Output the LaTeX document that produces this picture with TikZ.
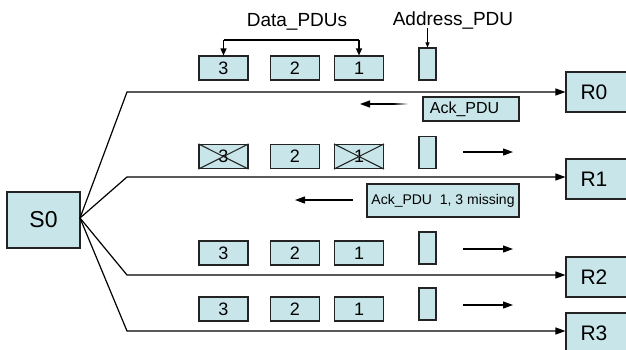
\documentclass[tikz,border=0pt]{standalone}
\usepackage{fontspec}
\setmainfont{Liberation Sans}
\usetikzlibrary{arrows.meta,calc}
\definecolor{boxc}{RGB}{200,230,233}
\definecolor{edgec}{RGB}{35,35,35}
\tikzset{
  pdu/.style={draw=edgec, line width=1.1pt, fill=boxc, minimum width=49pt, minimum height=24pt, inner sep=0pt, font=\fontsize{18}{20}\selectfont},
  addr/.style={draw=edgec, line width=1.1pt, fill=boxc, minimum width=17pt, minimum height=32pt, inner sep=0pt},
  rbox/.style={draw=edgec, line width=1.1pt, fill=boxc, minimum width=62pt, minimum height=40pt, inner sep=0pt, font=\fontsize{21}{24}\selectfont},
  ackbox/.style={draw=edgec, line width=1.1pt, fill=boxc, inner sep=0pt},
  wire/.style={line width=1.2pt, draw=black},
  arr/.style={line width=1.2pt, -{Triangle[length=10pt,width=7pt]}},
  smallarr/.style={line width=1.2pt, -{Triangle[length=7pt,width=6pt]}},
  tinyarr/.style={line width=0.8pt, -{Triangle[length=5pt,width=4pt]}},
  lbl/.style={font=\fontsize{19}{22}\selectfont, inner sep=0pt}
}
\begin{document}
\begin{tikzpicture}[x=1pt,y=-1pt]
\useasboundingbox (0,0) rectangle (626,349);
\clip (0,0) rectangle (626,349);

% sender and receivers
\node[rbox, minimum width=73pt, minimum height=56pt, font=\fontsize{23}{26}\selectfont] (S0) at (43.5,220) {S0};
\node[rbox] (R0) at (597,92) {R0\kern6pt};
\node[rbox] (R1) at (597,179) {R1\kern6pt};
\node[rbox] (R2) at (597,277) {R2\kern6pt};
\node[rbox] (R3) at (597,333) {R3\kern6pt};

% fan-out connectors
\coordinate (fan) at (80,218);
\coordinate (c0) at (127,92);
\coordinate (c1) at (127,177);
\coordinate (c2) at (127,275);
\coordinate (c3) at (127,331);
\draw[wire, arr] (fan) -- (c0) -- (c0 -| R0.west);
\draw[wire, arr] (fan) -- (c1) -- (c1 -| R1.west);
\draw[wire, arr] (fan) -- (c2) -- (c2 -| R2.west);
\draw[wire, arr] (fan) -- (c3) -- (c3 -| R3.west);

% row 0
\node[pdu] (a3) at (223.5,68) {3};
\node[pdu] (a2) at (295,68) {2};
\node[pdu] (a1) at (359,68) {1};
\node[addr] (aA) at (427.5,64) {};

% row 1 (lost PDUs crossed)
\node[pdu] (b3) at (223.5,156.5) {3};
\node[pdu] (b2) at (295,156.5) {2};
\node[pdu] (b1) at (359,156.5) {1};
\node[addr] (bA) at (427.5,152.5) {};
\draw[line width=1.1pt, edgec] (b3.north west) -- (b3.south east) (b3.south west) -- (b3.north east);
\draw[line width=1.1pt, edgec] (b1.north west) -- (b1.south east) (b1.south west) -- (b1.north east);

% row 2
\node[pdu] (c3b) at (223.5,253) {3};
\node[pdu] (c2b) at (295,253) {2};
\node[pdu] (c1b) at (359,253) {1};
\node[addr] (cA) at (427.5,248) {};

% row 3
\node[pdu] (d3) at (223.5,309) {3};
\node[pdu] (d2) at (295,309) {2};
\node[pdu] (d1) at (359,309) {1};
\node[addr] (dA) at (427.5,304) {};

% labels on top
\node[lbl] (dlabel) at (297,22) {Data\_PDUs};
\node[lbl] (alabel) at (453,20) {Address\_PDU};
\coordinate (br3) at (223.5,40);
\coordinate (br1) at (359,40);
\draw[line width=1.2pt] (br3) -- (br1);
\draw[smallarr] (br3) -- (a3.north);
\draw[smallarr] (br1) -- (a1.north);
\draw[tinyarr] (aA.north |- 0,28) coordinate (atop) -- (aA.north);

% acknowledgements
\node[ackbox, minimum width=96pt, minimum height=24pt, font=\fontsize{16}{18}\selectfont] (ack0) at (471,109) {Ack\_PDU\kern13pt};
\node[ackbox, minimum width=152pt, minimum height=33pt, font=\fontsize{14}{16}\selectfont] (ack1) at (443,200.5) {Ack\_PDU\ \ 1, 3 missing};

% free arrows
\coordinate (l0s) at (393,104); \coordinate (l0e) at (360,104);
\coordinate (l0f) at (408,104);
\shade[left color=black, right color=white] ($(l0s)+(0,-0.6)$) rectangle ($(l0f)+(0,0.6)$);
\coordinate (l1s) at (353,200); \coordinate (l1e) at (295,200);
\draw[arr] (l0s) -- (l0e);
\draw[arr] (l1s) -- (l1e);
\coordinate (r1s) at (463,152); \coordinate (r1e) at (513,152);
\coordinate (r2s) at (463,249); \coordinate (r2e) at (513,249);
\coordinate (r3s) at (463,305); \coordinate (r3e) at (513,305);
\draw[arr] (r1s) -- (r1e);
\draw[arr] (r2s) -- (r2e);
\draw[arr] (r3s) -- (r3e);
\end{tikzpicture}
\end{document}
